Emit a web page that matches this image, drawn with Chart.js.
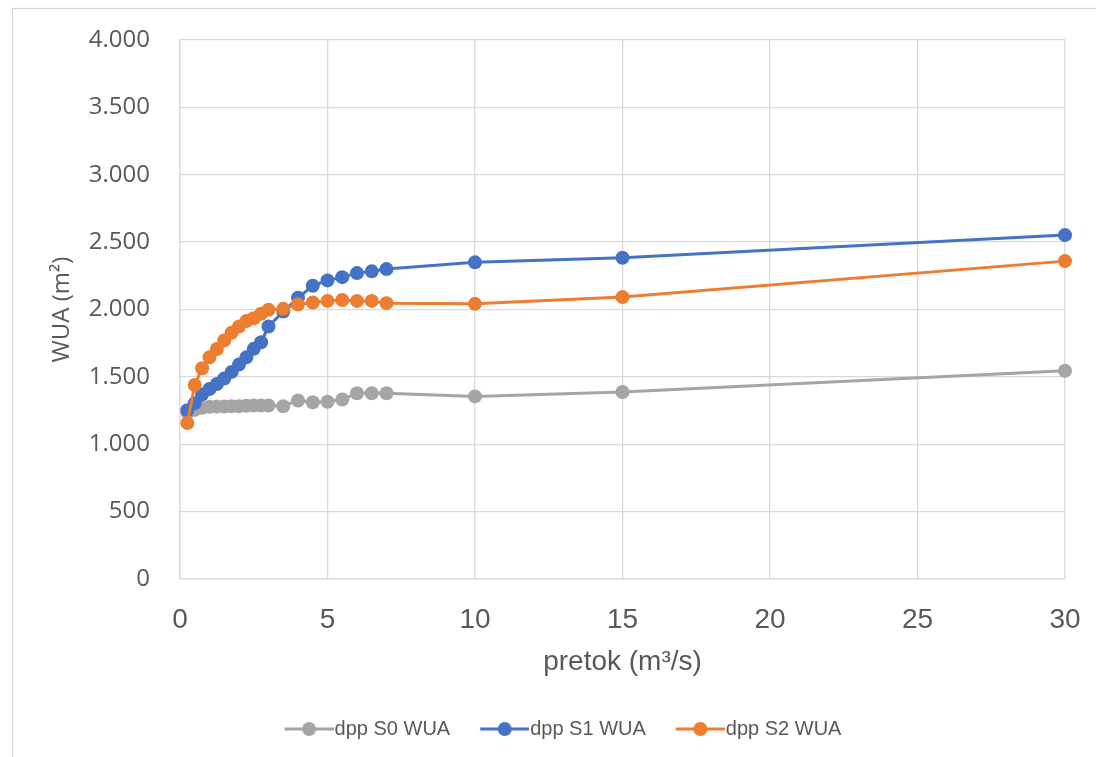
<!DOCTYPE html>
<html>
<head>
<meta charset="utf-8">
<title>WUA – pretok</title>
<script src="https://cdn.jsdelivr.net/npm/chart.js@4.4.1/dist/chart.umd.min.js"></script>
<style>
  html, body { margin: 0; padding: 0; background: #ffffff; overflow: hidden; }
  #wrap { position: relative; width: 1130px; height: 757px; }
</style>
</head>
<body>
<div id="wrap"><canvas id="chart" width="1130" height="757"></canvas></div>
<script>
// Flow values (m³/s) shared by all three series
const flow = [0.25, 0.5, 0.75, 1, 1.25, 1.5, 1.75, 2, 2.25, 2.5, 2.75, 3,
              3.5, 4, 4.5, 5, 5.5, 6, 6.5, 7, 10, 15, 30];

// Weighted usable area (m²) per scenario
const wuaS0 = [1235, 1255, 1270, 1278, 1280, 1280, 1282, 1282, 1285, 1288, 1288, 1288,
               1282, 1325, 1312, 1315, 1332, 1378, 1378, 1378, 1355, 1388, 1546];
const wuaS1 = [1252, 1305, 1370, 1410, 1447, 1488, 1537, 1591, 1645, 1708, 1757, 1874,
               1985, 2087, 2176, 2216, 2240, 2270, 2283, 2300, 2350, 2384, 2552];
const wuaS2 = [1158, 1440, 1564, 1645, 1707, 1770, 1827, 1874, 1915, 1935, 1968, 1998,
               2005, 2037, 2052, 2064, 2070, 2064, 2064, 2047, 2042, 2092, 2359];

const seriesNames = ['dpp S0 WUA', 'dpp S1 WUA', 'dpp S2 WUA'];
const seriesColors = ['#A5A5A5', '#4472C4', '#ED7D31'];

// Axis ticks
const xTickValues = [0, 5, 10, 15, 20, 25, 30];
const yTickValues = [0, 500, 1000, 1500, 2000, 2500, 3000, 3500, 4000];

const xTitle = 'pretok (m³/s)';
const yTitle = 'WUA (m²)';

const TEXT = '#595959';
const GRID = '#D9D9D9';
const WIDE = '"Open Sans", "DejaVu Sans", sans-serif';
const NARROW = '"Liberation Sans Narrow", "Liberation Sans", "DejaVu Sans", sans-serif';

// Thousands separator as a dot
function fmtThousands(v) {
  if (v < 1000) return String(v);
  return Math.floor(v / 1000) + '.' + String(v % 1000).padStart(3, '0');
}

// Legend marker: short line with a filled dot
function legendMarker(color) {
  const c = document.createElement('canvas');
  c.width = 58; c.height = 18;
  const g = c.getContext('2d');
  g.strokeStyle = color; g.lineWidth = 3;
  g.beginPath(); g.moveTo(9, 9); g.lineTo(58, 9); g.stroke();
  g.fillStyle = color;
  g.beginPath(); g.arc(33.5, 9, 7, 0, Math.PI * 2); g.fill();
  return c;
}

// Outer frame of the chart object
const framePlugin = {
  id: 'frame',
  beforeDraw(chart) {
    const ctx = chart.ctx;
    ctx.save();
    ctx.fillStyle = '#ffffff';
    ctx.fillRect(0, 0, chart.width, chart.height);
    ctx.strokeStyle = GRID;
    ctx.lineWidth = 1.3;
    ctx.strokeRect(12.5, 8.5, chart.width - 14, chart.height + 20);
    ctx.restore();
  }
};

function build() {
  const values = [wuaS0, wuaS1, wuaS2];
  const datasets = values.map((arr, i) => ({
    label: seriesNames[i],
    data: flow.map((x, k) => ({ x: x, y: arr[k] })),
    borderColor: seriesColors[i],
    backgroundColor: seriesColors[i],
    pointBackgroundColor: seriesColors[i],
    pointBorderColor: seriesColors[i],
    borderWidth: 3,
    pointRadius: 7,
    pointBorderWidth: 0,
    pointHoverRadius: 7,
    tension: 0,
    clip: false,
    order: 3 - i
  }));

  new Chart(document.getElementById('chart'), {
    type: 'line',
    data: { datasets },
    plugins: [framePlugin],
    options: {
      responsive: false,
      animation: false,
      events: [],
      layout: { padding: { left: 61, right: 65, top: 40, bottom: 8 } },
      plugins: {
        tooltip: { enabled: false },
        legend: {
          position: 'bottom',
          labels: {
            usePointStyle: true,
            pointStyleWidth: 40,
            padding: 30,
            color: TEXT,
            font: { family: NARROW, size: 20 },
            generateLabels(chart) {
              return chart.data.datasets.map((ds, i) => ({
                text: ds.label,
                pointStyle: legendMarker(seriesColors[i]),
                fillStyle: seriesColors[i],
                strokeStyle: seriesColors[i],
                lineWidth: 0,
                fontColor: TEXT,
                hidden: false,
                datasetIndex: i
              }));
            }
          }
        }
      },
      scales: {
        x: {
          type: 'linear',
          min: 0, max: 30,
          afterBuildTicks(scale) { scale.ticks = xTickValues.map(v => ({ value: v })); },
          afterFit(scale) { scale.height = 110; },
          grid: { color: GRID, lineWidth: 1.3, tickLength: 20, tickColor: 'rgba(0,0,0,0)' },
          border: { color: GRID, width: 1.3 },
          ticks: {
            padding: 4,
            color: TEXT,
            maxRotation: 0,
            font: { family: NARROW, size: 28 },
            callback: v => String(v)
          },
          title: {
            display: true,
            text: xTitle,
            color: TEXT,
            font: { family: NARROW, size: 28 },
            padding: { top: 0, bottom: 10 }
          }
        },
        y: {
          min: 0, max: 4000,
          afterBuildTicks(scale) { scale.ticks = yTickValues.map(v => ({ value: v })); },
          afterFit(scale) { scale.width = 119; },
          grid: { color: GRID, lineWidth: 1.3, tickLength: 26, tickColor: 'rgba(0,0,0,0)' },
          border: { color: GRID, width: 1.3 },
          ticks: {
            padding: 4,
            color: TEXT,
            font: { family: WIDE, size: 24 },
            callback: v => fmtThousands(v)
          },
          title: {
            display: true,
            text: yTitle,
            color: TEXT,
            font: { family: WIDE, size: 24 },
            padding: { top: -13, bottom: 0 }
          }
        }
      }
    }
  });
}

Promise.all([
  document.fonts.load('24px "Open Sans"'),
  document.fonts.load('28px "Liberation Sans Narrow"'),
  document.fonts.load('28px "Liberation Sans"')
]).catch(() => {}).then(build);
</script>
</body>
</html>
